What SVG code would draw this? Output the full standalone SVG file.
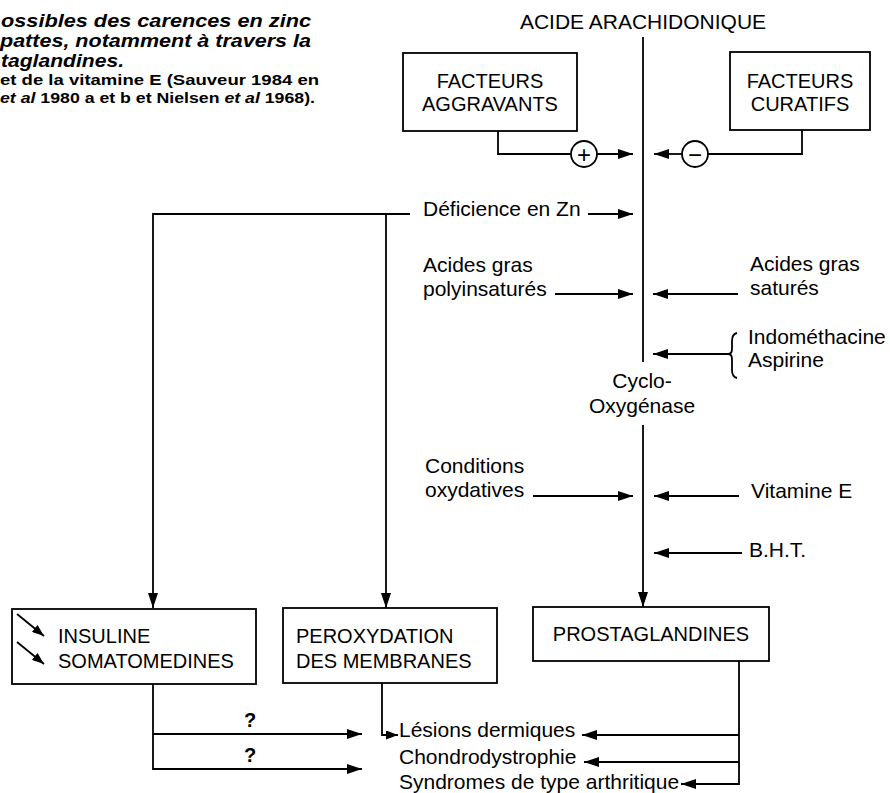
<svg xmlns="http://www.w3.org/2000/svg" width="890" height="793" viewBox="0 0 890 793">
<defs>
<marker id="ah" markerUnits="userSpaceOnUse" markerWidth="16" markerHeight="10" refX="15" refY="5" orient="auto">
<path d="M0,0 L15,5 L0,10 z" fill="#000"/>
</marker>
<marker id="ahs" markerUnits="userSpaceOnUse" markerWidth="13" markerHeight="9" refX="12" refY="4.5" orient="auto">
<path d="M0,0 L12,4.5 L0,9 z" fill="#000"/>
</marker>
<style>
text{font-family:"Liberation Sans",Arial,Helvetica,sans-serif;fill:#000}
.t{font-size:21px}
.b{font-size:20px}
.ti{font-size:19px;font-weight:bold;font-style:italic}
.ref{font-size:15.5px;font-weight:bold}
.sign{font-size:24px}
.box{fill:#fff;stroke:#000;stroke-width:1.8}
.ln{fill:none;stroke:#000;stroke-width:1.8}
.ar{fill:none;stroke:#000;stroke-width:1.8;marker-end:url(#ah)}
.ars{fill:none;stroke:#000;stroke-width:1.8;marker-end:url(#ahs)}
</style>
</defs>
<rect width="890" height="793" fill="#fff"/>

<g id="caption">
<text class="ti" x="1" y="27" textLength="310" lengthAdjust="spacingAndGlyphs">ossibles des carences en zinc</text>
<text class="ti" x="0" y="47" textLength="311" lengthAdjust="spacingAndGlyphs">pattes, notamment à travers la</text>
<text class="ti" x="1" y="66.5" textLength="123" lengthAdjust="spacingAndGlyphs">taglandines.</text>
<text class="ref" x="0" y="85" textLength="319" lengthAdjust="spacingAndGlyphs">et de la vitamine E (Sauveur 1984 en</text>
<text class="ref" x="0" y="103" textLength="315" lengthAdjust="spacingAndGlyphs"><tspan font-style="italic">et al</tspan> 1980 a et b et Nielsen <tspan font-style="italic">et al</tspan> 1968).</text>
</g>

<g id="connectors">
<path class="ln" d="M498,131 V154 H571"/>
<path class="ar" d="M597,154 H633"/>
<path class="ln" d="M802,130 V154 H708"/>
<path class="ar" d="M682,154 H654"/>
<path class="ln" d="M643,37 V362"/>
<path class="ar" d="M643,425 V607"/>
<path class="ar" d="M410,214 H153 V608"/>
<path class="ar" d="M386,214 V608"/>
<path class="ar" d="M588,214 H633"/>
<path class="ar" d="M555,294 H633"/>
<path class="ar" d="M738,294 H653"/>
<path class="ar" d="M728,354 H653"/>
<path class="ar" d="M533,496 H633"/>
<path class="ar" d="M739,496 H654"/>
<path class="ar" d="M742,553 H654"/>
<path class="ar" d="M153,684 V769 H362"/>
<path class="ar" d="M153,734 H362"/>
<path class="ars" d="M382,683 V735 H398"/>
<path class="ar" d="M739,661 V784 H681"/>
<path class="ar" d="M739,735 H582"/>
<path class="ar" d="M739,762 H584"/>
<path class="ln" d="M737,333 Q732,334 732,341 V349 Q732,354 728,354 Q732,354 732,359 V370 Q732,377 737,378"/>
</g>

<g id="acide-arachidonique">
<text class="t" x="643" y="29" text-anchor="middle">ACIDE ARACHIDONIQUE</text>
</g>

<g id="facteurs-aggravants">
<rect class="box" x="403" y="53" width="174" height="78"/>
<text class="b" x="490" y="88" text-anchor="middle">FACTEURS</text>
<text class="b" x="490" y="111" text-anchor="middle">AGGRAVANTS</text>
</g>

<g id="facteurs-curatifs">
<rect class="box" x="730" y="52" width="140" height="78"/>
<text class="b" x="800" y="88" text-anchor="middle">FACTEURS</text>
<text class="b" x="800" y="111" text-anchor="middle">CURATIFS</text>
</g>

<g id="plus">
<circle class="ln" cx="584" cy="154" r="13"/>
<text class="sign" x="584" y="162.5" text-anchor="middle">+</text>
</g>

<g id="minus">
<circle class="ln" cx="695" cy="154" r="13"/>
<text class="sign" x="695" y="162.5" text-anchor="middle">−</text>
</g>

<g id="deficience-zn">
<text class="t" x="423" y="216">Déficience en Zn</text>
</g>

<g id="acides-polyinsatures">
<text class="t" x="423" y="272">Acides gras</text>
<text class="t" x="423" y="296">polyinsaturés</text>
</g>

<g id="acides-satures">
<text class="t" x="750" y="271">Acides gras</text>
<text class="t" x="750" y="295">saturés</text>
</g>

<g id="indomethacine-aspirine">
<text class="t" x="748" y="344">Indométhacine</text>
<text class="t" x="748" y="367">Aspirine</text>
</g>

<g id="cyclo-oxygenase">
<text class="t" x="642" y="388" text-anchor="middle">Cyclo-</text>
<text class="t" x="642" y="413" text-anchor="middle">Oxygénase</text>
</g>

<g id="conditions-oxydatives">
<text class="t" x="425" y="473">Conditions</text>
<text class="t" x="425" y="497">oxydatives</text>
</g>

<g id="vitamine-e">
<text class="t" x="751" y="498">Vitamine E</text>
</g>

<g id="bht">
<text class="t" x="749" y="557">B.H.T.</text>
</g>

<g id="insuline-somatomedines">
<rect class="box" x="12" y="609" width="244" height="75"/>
<path class="ars" d="M17,614 L44,636"/>
<path class="ars" d="M17,642 L44,664"/>
<text class="b" x="58" y="643">INSULINE</text>
<text class="b" x="58" y="668">SOMATOMEDINES</text>
</g>

<g id="peroxydation-membranes">
<rect class="box" x="283" y="608" width="214" height="75"/>
<text class="b" x="296" y="643">PEROXYDATION</text>
<text class="b" x="296" y="668">DES MEMBRANES</text>
</g>

<g id="prostaglandines">
<rect class="box" x="533" y="607" width="236" height="54"/>
<text class="b" x="651" y="641" text-anchor="middle">PROSTAGLANDINES</text>
</g>

<g id="question-1">
<text class="b" x="250" y="727" text-anchor="middle" font-weight="bold">?</text>
</g>
<g id="question-2">
<text class="b" x="250" y="762" text-anchor="middle" font-weight="bold">?</text>
</g>

<g id="lesions-dermiques">
<text class="t" x="399" y="737">Lésions dermiques</text>
</g>
<g id="chondrodystrophie">
<text class="t" x="399" y="764">Chondrodystrophie</text>
</g>
<g id="syndromes-arthritiques">
<text class="t" x="399" y="789">Syndromes de type arthritique</text>
</g>
</svg>
